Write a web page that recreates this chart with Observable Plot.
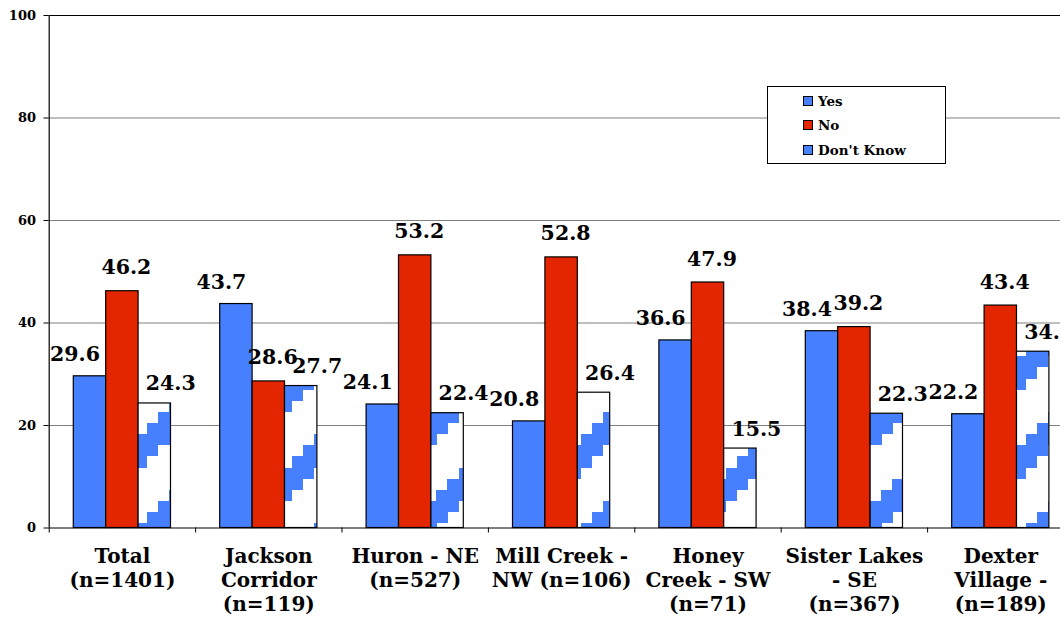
<!DOCTYPE html>
<html><head><meta charset="utf-8">
<script src="https://cdn.jsdelivr.net/npm/d3@7"></script>
<script src="https://cdn.jsdelivr.net/npm/@observablehq/plot@0.6"></script>
<style>
html,body{margin:0;padding:0;background:#fff;overflow:hidden;}
#wrap{position:relative;width:1060px;height:618px;}
#wrap svg{position:absolute;left:0;top:0;}
#legend{position:absolute;left:767px;top:86px;width:177px;height:76px;border:1px solid #000;background:#fff;font-family:"DejaVu Serif";font-weight:bold;font-size:13.5px;color:#000;}
.item{position:absolute;left:35px;height:16px;line-height:16px;display:flex;align-items:center;white-space:nowrap;}
.sw{width:8px;height:8px;border:1px solid #000;margin-right:5px;}
</style></head><body><div id="wrap"><div id="legend"></div></div>
<script>
const categories = ["Total\n(n=1401)", "Jackson\nCorridor\n(n=119)", "Huron - NE\n(n=527)", "Mill Creek -\nNW (n=106)", "Honey\nCreek - SW\n(n=71)", "Sister Lakes\n- SE\n(n=367)", "Dexter\nVillage -\n(n=189)"];
const seriesNames = ["Yes", "No", "Don't Know"];
const yesValues = [29.6, 43.7, 24.1, 20.8, 36.6, 38.4, 22.2];
const noValues  = [46.2, 28.6, 53.2, 52.8, 47.9, 39.2, 43.4];
const dkValues  = [24.3, 27.7, 22.4, 26.4, 15.5, 22.3, 34.4];
const yTicks = [0, 20, 40, 60, 80, 100];

const BLUE = "#4680ff", RED = "#e42600";
const barStart = 0.168, barW = 0.2213;
const valuesBySeries = [yesValues, noValues, dkValues];
const rows = valuesBySeries.map((vals, s) => vals.map((value, i) => ({i, s, value})));

function patternMark() {
  const ns = "http://www.w3.org/2000/svg";
  const defs = document.createElementNS(ns, "defs");
  const pat = document.createElementNS(ns, "pattern");
  const P = 89, w = P / 8;
  pat.setAttribute("id", "dkpat");
  pat.setAttribute("patternUnits", "userSpaceOnUse");
  pat.setAttribute("x", 147); pat.setAttribute("y", 423);
  pat.setAttribute("width", P); pat.setAttribute("height", P);
  const bg = document.createElementNS(ns, "rect");
  bg.setAttribute("width", P); bg.setAttribute("height", P); bg.setAttribute("fill", "#fff");
  pat.appendChild(bg);
  for (let j = 0; j < 8; j++) {
    const t = ((P - j * w) % P);
    for (const yy of [t, t - P]) {
      const r = document.createElementNS(ns, "rect");
      r.setAttribute("x", j * w); r.setAttribute("y", yy);
      r.setAttribute("width", w + 0.3); r.setAttribute("height", 3 * w);
      r.setAttribute("fill", BLUE); r.setAttribute("shape-rendering", "crispEdges");
      pat.appendChild(r);
    }
  }
  defs.appendChild(pat);
  return defs;
}

const fills = [BLUE, RED, "url(#dkpat)"];
const labelDx = [-15, 4, 16], labelDy = [-15, -17, -13];
const cx = d => d.i + barStart + (d.s + 0.5) * barW;

const plot = Plot.plot({
  width: 1060, height: 618,
  marginLeft: 48.5, marginRight: 0, marginTop: 15, marginBottom: 90.5,
  x: {domain: [0, 7], range: [48.7, 1073.5]},
  y: {domain: [0, 100], range: [527.5, 15]},
  style: {fontFamily: "DejaVu Serif", fontWeight: "bold", background: "#fff", color: "#000"},
  marks: [
    patternMark,
    Plot.ruleY([20, 40, 60, 80], {stroke: "#808080", strokeWidth: 1}),
    Plot.ruleY([100], {stroke: "#000", strokeWidth: 1}),
    ...rows.map((r, s) => Plot.rectY(r, {
      x1: d => d.i + barStart + d.s * barW,
      x2: d => d.i + barStart + (d.s + 1) * barW,
      y1: 0, y2: "value", fill: fills[s], stroke: "#000", strokeWidth: 1.2
    })),
    Plot.ruleY([0], {stroke: "#000", strokeWidth: 1.2}),
    Plot.ruleX([0], {stroke: "#000", strokeWidth: 1.2}),
    Plot.axisY({ticks: yTicks, tickSize: 5, tickPadding: 8, fontSize: 13, label: null}),
    Plot.axisX({ticks: d3.range(8), tickSize: 5, tickFormat: () => "", label: null}),
    Plot.text(categories, {x: (d, i) => i + 0.5, y: 0, text: d => d, lineAnchor: "top", dy: 18, fontSize: 20, lineHeight: 1.2, fill: "#000"}),
    ...rows.map((r, s) => Plot.text(r, {
      x: cx, y: "value", text: d => d.value.toFixed(1),
      dx: labelDx[s], dy: labelDy[s], lineAnchor: "bottom", fontSize: 20.5, fill: "#000"
    }))
  ]
});
document.getElementById("wrap").prepend(plot);

const legend = document.getElementById("legend");
const legendColors = [BLUE, RED, BLUE];
const legendTops = [6, 30, 55];
seriesNames.forEach((name, k) => {
  const it = document.createElement("div");
  it.className = "item"; it.style.top = legendTops[k] + "px";
  const sw = document.createElement("div"); sw.className = "sw"; sw.style.background = legendColors[k];
  const tx = document.createElement("span"); tx.textContent = name;
  it.appendChild(sw); it.appendChild(tx); legend.appendChild(it);
});
</script>
</body></html>
